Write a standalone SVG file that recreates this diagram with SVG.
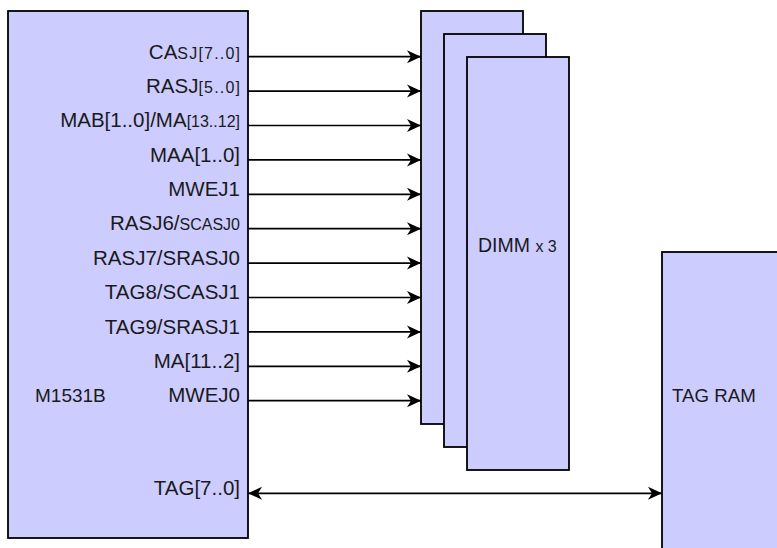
<svg xmlns="http://www.w3.org/2000/svg" width="777" height="548" viewBox="0 0 777 548">
<defs>
<style>
.box{fill:#ccccff;stroke:#000;stroke-width:1.8}
.wire{stroke:#000;stroke-width:1.7;fill:none}
text{font-family:"Liberation Sans",Arial,sans-serif;font-size:18.7px;fill:#1a1a1a}
.lbl{text-anchor:end;font-size:20.5px}
.s{font-size:16px}
.sw{letter-spacing:1.2px}
</style>
<marker id="ah" markerUnits="userSpaceOnUse" markerWidth="16" markerHeight="14" viewBox="-14 -7 16 14" refX="0" refY="0" orient="auto">
<path d="M0,0 L-14,-6.5 L-10,0 L-14,6.5 Z" fill="#000"/>
</marker>
<marker id="ahs" markerUnits="userSpaceOnUse" markerWidth="16" markerHeight="14" viewBox="-14 -7 16 14" refX="0" refY="0" orient="auto-start-reverse">
<path d="M0,0 L-14,-6.5 L-10,0 L-14,6.5 Z" fill="#000"/>
</marker>
</defs>
<rect width="777" height="548" fill="#fff"/>
<g id="m1531b">
<rect class="box" x="8" y="11" width="240" height="527"/>
<text x="35" y="402" style="font-size:19px">M1531B</text>
<text class="lbl" x="240" y="58.5">CA<tspan class="s sw">SJ[7..0</tspan><tspan class="s">]</tspan></text>
<text class="lbl" x="240" y="92.5">RASJ<tspan class="s sw">[5..0</tspan><tspan class="s">]</tspan></text>
<text class="lbl" x="240" y="127">MAB[1..0]/MA<tspan class="s">[13..12]</tspan></text>
<text class="lbl" x="240" y="161.5">MAA[1..0]</text>
<text class="lbl" x="240" y="196">MWEJ1</text>
<text class="lbl" x="240" y="230">RASJ6/<tspan class="s">SCASJ0</tspan></text>
<text class="lbl" x="240" y="264.5">RASJ7/SRASJ0</text>
<text class="lbl" x="240" y="299">TAG8/SCASJ1</text>
<text class="lbl" x="240" y="333.5">TAG9/SRASJ1</text>
<text class="lbl" x="240" y="368">MA[11..2]</text>
<text class="lbl" x="240" y="402">MWEJ0</text>
<text class="lbl" x="240" y="495">TAG[7..0]</text>
</g>
<g id="dimm">
<rect class="box" x="421" y="11" width="102" height="413"/>
<rect class="box" x="444" y="34" width="102" height="413"/>
<rect class="box" x="467" y="57" width="102" height="413"/>
<text x="478" y="252" style="font-size:19.5px">DIMM <tspan class="s">x 3</tspan></text>
</g>
<g id="tagram">
<rect class="box" x="662" y="252" width="130" height="320"/>
<text x="672" y="402">TAG RAM</text>
</g>
<g id="connectors">
<line class="wire" x1="248" y1="56.7" x2="421" y2="56.7" marker-end="url(#ah)"/>
<line class="wire" x1="248" y1="91.1" x2="421" y2="91.1" marker-end="url(#ah)"/>
<line class="wire" x1="248" y1="125.5" x2="421" y2="125.5" marker-end="url(#ah)"/>
<line class="wire" x1="248" y1="159.9" x2="421" y2="159.9" marker-end="url(#ah)"/>
<line class="wire" x1="248" y1="194.3" x2="421" y2="194.3" marker-end="url(#ah)"/>
<line class="wire" x1="248" y1="228.7" x2="421" y2="228.7" marker-end="url(#ah)"/>
<line class="wire" x1="248" y1="263.1" x2="421" y2="263.1" marker-end="url(#ah)"/>
<line class="wire" x1="248" y1="297.5" x2="421" y2="297.5" marker-end="url(#ah)"/>
<line class="wire" x1="248" y1="331.9" x2="421" y2="331.9" marker-end="url(#ah)"/>
<line class="wire" x1="248" y1="366.3" x2="421" y2="366.3" marker-end="url(#ah)"/>
<line class="wire" x1="248" y1="400.7" x2="421" y2="400.7" marker-end="url(#ah)"/>
<line class="wire" x1="248" y1="493.3" x2="662" y2="493.3" marker-start="url(#ahs)" marker-end="url(#ah)"/>
</g>
</svg>
